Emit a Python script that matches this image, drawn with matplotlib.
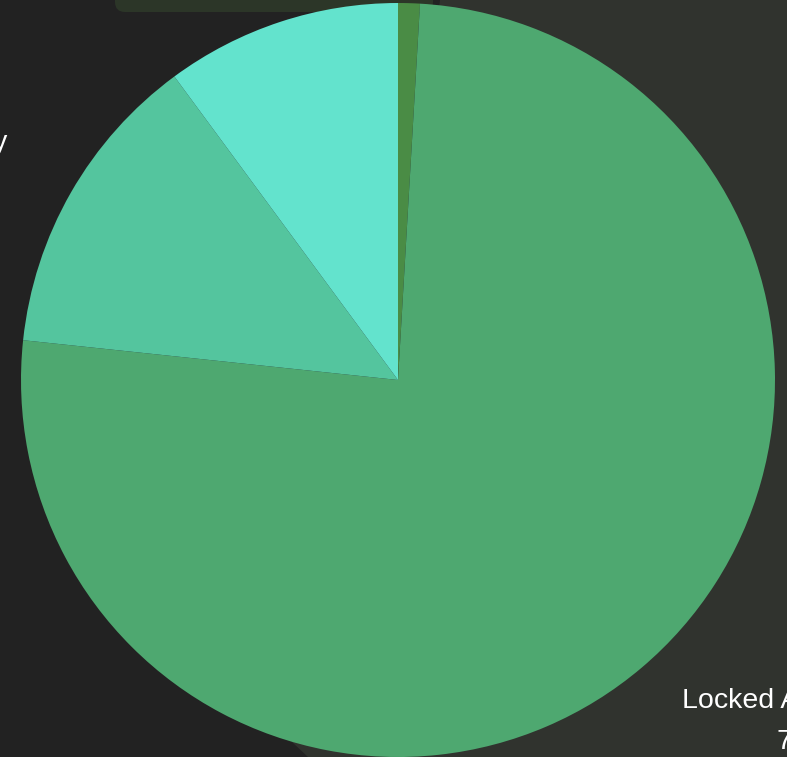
import matplotlib.pyplot as plt
from matplotlib.patches import Polygon, FancyBboxPatch

plt.rcParams['font.family'] = ['Liberation Sans', 'DejaVu Sans']

# slices, clockwise from 12 o'clock
labels = ["Other", "Locked Assets", "Staked", "Liquidity"]
shares = [0.93, 75.7, 13.2, 10.1]
colors = ["#4a8c45", "#4ea870", "#54c59e", "#63e3cd"]

W, H = 787, 757
fig = plt.figure(figsize=(W / 100, H / 100), dpi=100)
fig.patch.set_facecolor("#222222")
ax = fig.add_axes([0, 0, 1, 1])
ax.set_facecolor("#222222")

# darker panel behind the right side
ax.add_patch(Polygon([(440, H), (W, H), (W, 0), (308, 0), (292, 15), (398, 380)],
                     closed=True, fc="#30332e", ec="none", zorder=0))
# strip along the top edge
ax.add_patch(FancyBboxPatch((115, H - 12), 318, 30,
                            boxstyle="round,pad=0,rounding_size=10",
                            fc="#2c3628", ec="none", zorder=0))

ax.pie(shares, colors=colors, startangle=90, counterclock=False,
       center=(398, H - 380), radius=377, frame=True,
       wedgeprops=dict(linewidth=0))

# outer labels, partly cut by the figure edge
ax.text(682, H - 708, labels[1], color="white", fontsize=20.5,
        ha="left", va="baseline")
ax.text(777, H - 749, f"{shares[1]:.1f}%", color="white", fontsize=20.5,
        ha="left", va="baseline")
ax.text(8, H - 150, labels[3], color="white", fontsize=20.5,
        ha="right", va="baseline")

ax.set_xlim(0, W)
ax.set_ylim(0, H)
ax.set_aspect("auto")
ax.axis("off")

fig.savefig("out.png", dpi=100, facecolor=fig.get_facecolor())
